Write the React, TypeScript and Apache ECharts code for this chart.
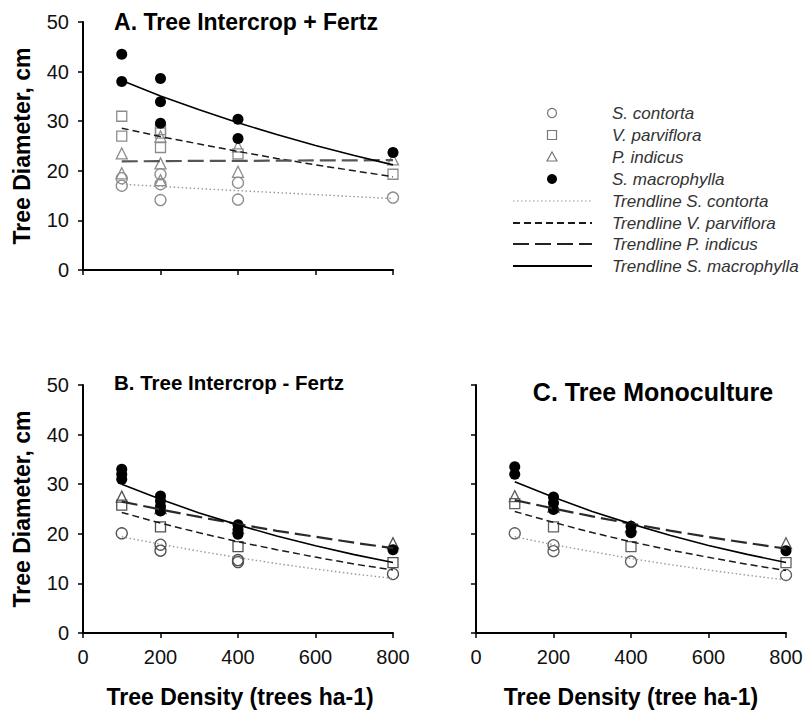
import React, { useEffect, useRef } from "react";
import * as echarts from "echarts";

// Planting densities (trees per hectare) where trees were measured
const densities = [100, 200, 400, 800];
// Densities at which the fitted trendlines are traced
const trendDensities = [100, 200, 300, 400, 500, 600, 700, 800];

const speciesNames = ["S. contorta", "V. parviflora", "P. indicus", "S. macrophylla"];
const trendNames = [
  "Trendline S. contorta",
  "Trendline V. parviflora",
  "Trendline P. indicus",
  "Trendline S. macrophylla",
];

// A. Tree Intercrop + Fertz — individual observations [density, diameter cm]
const contortaA = [[100, 18.5], [100, 17.0], [200, 19.3], [200, 17.3], [200, 14.1], [400, 17.6], [400, 14.2], [800, 14.6]];
const parvifloraA = [[100, 31.0], [100, 27.0], [200, 28.3], [200, 27.6], [200, 24.7], [400, 23.4], [800, 19.3]];
const indicusA = [[100, 23.5], [100, 19.5], [200, 26.9], [200, 21.5], [200, 18.1], [400, 24.9], [400, 19.8], [800, 22.3]];
const macrophyllaA = [[100, 43.5], [100, 38.0], [200, 38.6], [200, 33.9], [200, 29.6], [400, 30.4], [400, 26.5], [800, 23.7]];

// B. Tree Intercrop - Fertz
const contortaB = [[100, 20.1], [200, 17.8], [200, 16.6], [400, 14.7], [400, 14.3], [800, 11.9]];
const parvifloraB = [[100, 25.8], [200, 21.4], [400, 17.4], [800, 14.2]];
const indicusB = [[100, 27.5], [200, 25.2], [400, 21.2], [800, 18.1]];
const macrophyllaB = [[100, 33.0], [100, 32.0], [100, 31.0], [200, 27.6], [200, 26.6], [200, 25.5], [200, 24.6], [400, 21.8], [400, 20.8], [400, 19.9], [800, 16.8]];

// C. Tree Monoculture
const contortaC = [[100, 20.1], [200, 17.7], [200, 16.5], [400, 14.4], [800, 11.7]];
const parvifloraC = [[100, 26.1], [200, 21.4], [400, 17.4], [800, 14.2]];
const indicusC = [[100, 27.6], [200, 25.5], [400, 21.5], [800, 18.1]];
const macrophyllaC = [[100, 33.5], [100, 32.0], [200, 27.4], [200, 26.2], [200, 24.9], [400, 21.5], [400, 20.2], [800, 16.6]];

// Trendline diameters along trendDensities
const trendContortaA = [17.3, 16.85, 16.4, 16.0, 15.6, 15.2, 14.8, 14.4];
const trendParvifloraA = [28.6, 26.9, 25.4, 23.9, 22.5, 21.2, 20.0, 18.8];
const trendIndicusA = [21.9, 21.95, 22.0, 22.0, 22.05, 22.1, 22.1, 22.15];
const trendMacrophyllaA = [38.2, 35.1, 32.3, 29.7, 27.3, 25.1, 23.1, 21.2];

const trendContortaB = [19.4, 17.9, 16.5, 15.2, 14.0, 12.9, 11.9, 11.0];
const trendParvifloraB = [24.3, 22.15, 20.2, 18.4, 16.8, 15.3, 13.9, 12.7];
const trendIndicusB = [26.5, 24.9, 23.4, 21.95, 20.6, 19.4, 18.2, 17.1];
const trendMacrophyllaB = [30.0, 26.95, 24.2, 21.8, 19.55, 17.6, 15.8, 14.2];

const trendContortaC = [19.4, 17.8, 16.4, 15.0, 13.8, 12.7, 11.65, 10.7];
const trendParvifloraC = [24.5, 22.3, 20.25, 18.4, 16.75, 15.25, 13.85, 12.6];
const trendIndicusC = [26.8, 25.1, 23.5, 22.05, 20.65, 19.35, 18.15, 17.0];
const trendMacrophyllaC = [30.5, 27.35, 24.5, 22.0, 19.7, 17.65, 15.85, 14.2];

const FONT = "'Liberation Sans', Arial, Helvetica, sans-serif";

const panels = [
  {
    title: "A. Tree Intercrop + Fertz",
    titleX: 246,
    titleY: 22,
    titleSize: 23,
    xName: "",
    xNameX: 0,
    showXLabels: false,
    showYLabels: true,
    yName: "Tree Diameter, cm",
    grid: { left: 83, top: 22, width: 310, height: 248 },
    points: [contortaA, parvifloraA, indicusA, macrophyllaA],
    trends: [trendContortaA, trendParvifloraA, trendIndicusA, trendMacrophyllaA],
    open: "#8c8c8c",
    longDash: "#555",
  },
  {
    title: "B. Tree Intercrop - Fertz",
    titleX: 229,
    titleY: 382,
    titleSize: 20.5,
    xName: "Tree Density (trees ha-1)",
    xNameX: 240,
    showXLabels: true,
    showYLabels: true,
    yName: "Tree Diameter, cm",
    grid: { left: 83, top: 385, width: 310, height: 248 },
    points: [contortaB, parvifloraB, indicusB, macrophyllaB],
    trends: [trendContortaB, trendParvifloraB, trendIndicusB, trendMacrophyllaB],
    open: "#505050",
    longDash: "#2a2a2a",
  },
  {
    title: "C. Tree Monoculture",
    titleX: 653,
    titleY: 392,
    titleSize: 25,
    xName: "Tree Density (tree ha-1)",
    xNameX: 631,
    showXLabels: true,
    showYLabels: false,
    yName: "",
    grid: { left: 476, top: 385, width: 310, height: 248 },
    points: [contortaC, parvifloraC, indicusC, macrophyllaC],
    trends: [trendContortaC, trendParvifloraC, trendIndicusC, trendMacrophyllaC],
    open: "#606060",
    longDash: "#2a2a2a",
  },
];

function markerStyle(species: number, open: string) {
  const hollow = { color: "rgba(255,255,255,0)", borderColor: open, borderWidth: 1.3, opacity: 1 };
  if (species === 0) return { symbol: "circle", symbolSize: 11, itemStyle: hollow };
  if (species === 1) return { symbol: "rect", symbolSize: 10, itemStyle: hollow };
  if (species === 2) return { symbol: "triangle", symbolSize: 11, itemStyle: hollow };
  return { symbol: "circle", symbolSize: 11, itemStyle: { color: "#000", borderColor: "#000", borderWidth: 0, opacity: 1 } };
}

function trendStyle(species: number, longDash: string) {
  if (species === 0) return { color: "#999", width: 1.4, type: [1.5, 2.5] };
  if (species === 1) return { color: "#1a1a1a", width: 1.5, type: [7, 4] };
  if (species === 2) return { color: longDash, width: 2.2, type: [16, 6] };
  return { color: "#000", width: 1.6, type: "solid" };
}

function buildOption() {
  const grid = panels.map((p) => ({ ...p.grid }));
  const xAxis = panels.map((p, i) => ({
    type: "value",
    gridIndex: i,
    min: 0,
    max: 800,
    interval: 200,
    axisLine: { onZero: false, lineStyle: { color: "#000", width: 2 } },
    axisTick: { show: true, length: 5, lineStyle: { color: "#000", width: 1.5 } },
    axisLabel: { show: p.showXLabels, margin: 14, fontSize: 20, color: "#111", fontFamily: FONT },
    splitLine: { show: false },
  }));
  const yAxis = panels.map((p, i) => ({
    type: "value",
    gridIndex: i,
    min: 0,
    max: 50,
    interval: 10,
    name: p.yName,
    nameLocation: "middle",
    nameGap: 50,
    nameTextStyle: { fontSize: 23, fontWeight: "bold", color: "#000", fontFamily: FONT },
    axisLine: { show: true, lineStyle: { color: "#000", width: 2 } },
    axisTick: { show: true, length: 5, lineStyle: { color: "#000", width: 1.5 } },
    axisLabel: { show: p.showYLabels, margin: 14, fontSize: 20, color: "#111", fontFamily: FONT },
    splitLine: { show: false },
  }));

  const series: any[] = [];
  panels.forEach((p, i) => {
    p.points.forEach((pts, s) => {
      series.push({
        type: "scatter",
        name: speciesNames[s],
        xAxisIndex: i,
        yAxisIndex: i,
        data: pts,
        z: 2 + (s === 3 ? 1 : 0),
        ...markerStyle(s, p.open),
      });
    });
    p.trends.forEach((vals, s) => {
      series.push({
        type: "line",
        name: trendNames[s],
        xAxisIndex: i,
        yAxisIndex: i,
        data: trendDensities.map((d, k) => [d, vals[k]]),
        smooth: false,
        showSymbol: false,
        symbol: "none",
        z: 5,
        lineStyle: trendStyle(s, p.longDash),
      });
    });
  });

  // Panel titles
  const graphic: any[] = panels.map((p) => ({
    type: "text",
    x: p.titleX,
    y: p.titleY,
    style: {
      text: p.title,
      fontSize: p.titleSize,
      fontWeight: "bold",
      fontFamily: FONT,
      fill: "#000",
      align: "center",
      verticalAlign: "middle",
    },
  }));

  // X axis titles under panels B and C
  panels.forEach((p) => {
    if (!p.xName) return;
    graphic.push({
      type: "text",
      x: p.xNameX,
      y: 697,
      style: {
        text: p.xName,
        fontSize: 23,
        fontWeight: "bold",
        fontFamily: FONT,
        fill: "#000",
        align: "center",
        verticalAlign: "middle",
      },
    });
  });

  // Legend block to the right of panel A
  const legendRows = [113, 135, 157, 179, 201, 223, 244, 266];
  const symX = 552;
  const lineX0 = 513;
  const lineX1 = 592;
  const textX = 612;
  const legendLabels = [...speciesNames, ...trendNames];
  legendLabels.forEach((label, k) => {
    graphic.push({
      type: "text",
      x: textX,
      y: legendRows[k],
      style: { text: label, fontSize: 17, fontStyle: "italic", fontFamily: FONT, fill: "#333", align: "left", verticalAlign: "middle" },
    });
  });
  const lgGray = "#777";
  graphic.push({ type: "circle", shape: { cx: symX, cy: legendRows[0], r: 4.5 }, style: { fill: "none", stroke: lgGray, lineWidth: 1.2 } });
  graphic.push({ type: "rect", shape: { x: symX - 4.5, y: legendRows[1] - 4.5, width: 9, height: 9 }, style: { fill: "none", stroke: lgGray, lineWidth: 1.2 } });
  graphic.push({
    type: "polygon",
    shape: { points: [[symX, legendRows[2] - 5], [symX + 5, legendRows[2] + 4], [symX - 5, legendRows[2] + 4]] },
    style: { fill: "none", stroke: lgGray, lineWidth: 1.2 },
  });
  graphic.push({ type: "circle", shape: { cx: symX, cy: legendRows[3], r: 5 }, style: { fill: "#000" } });
  [0, 1, 2, 3].forEach((s) => {
    const ls: any = trendStyle(s, "#222");
    graphic.push({
      type: "line",
      shape: { x1: lineX0, y1: legendRows[4 + s], x2: lineX1, y2: legendRows[4 + s] },
      style: {
        stroke: ls.color,
        lineWidth: s === 0 ? 1.2 : 2,
        lineDash: Array.isArray(ls.type) ? ls.type : null,
      },
    });
  });

  return {
    animation: false,
    backgroundColor: "#fff",
    grid,
    xAxis,
    yAxis,
    series,
    graphic,
  };
}

export default function App() {
  const ref = useRef<HTMLDivElement>(null);
  useEffect(() => {
    if (!ref.current) return;
    const chart = echarts.init(ref.current, undefined, { renderer: "svg" });
    chart.setOption(buildOption() as any);
    return () => chart.dispose();
  }, []);
  return (
    <div
      ref={ref}
      style={{ position: "absolute", left: 0, top: 0, width: 806, height: 713, background: "#fff" }}
    />
  );
}
